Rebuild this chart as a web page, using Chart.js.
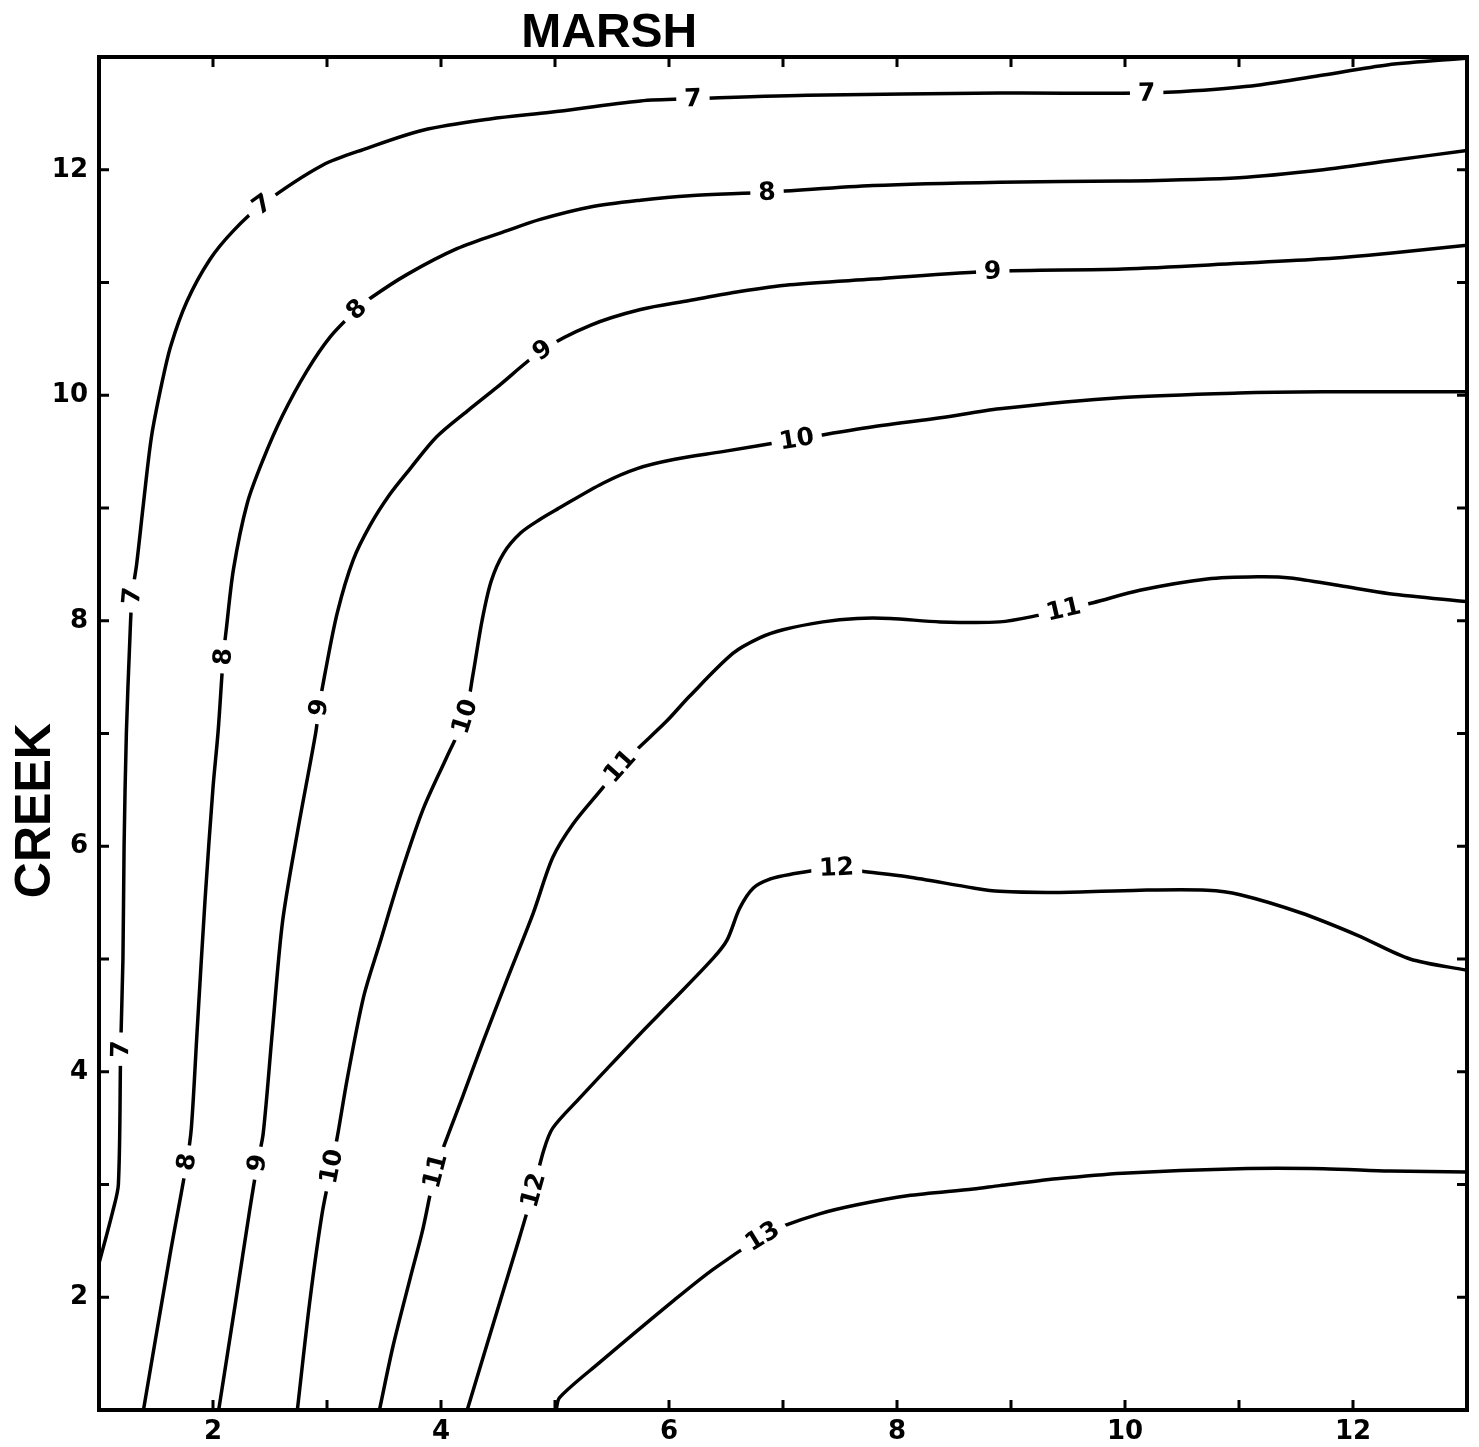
<!DOCTYPE html>
<html>
<head>
<meta charset="utf-8">
<title>MARSH / CREEK</title>
<script src="https://cdn.jsdelivr.net/npm/chart.js@4.4.1/dist/chart.umd.min.js"></script>
<style>
  html, body { margin: 0; padding: 0; background: #fff; }
  canvas { display: block; }
</style>
</head>
<body>
<canvas id="grafico" width="1479" height="1447"></canvas>
<script>
// Níveis das isolinhas
const levels = [7, 8, 9, 10, 11, 12, 13];

// Pontos de cada isolinha [x, y]
const contour7 = [[1.0, 2.3], [1.12, 2.76], [1.17, 3.0], [1.19, 4.2], [1.21, 5.0], [1.22, 6.0], [1.24, 7.0], [1.27, 7.82], [1.29, 8.22], [1.33, 8.5], [1.39, 9.04], [1.46, 9.63], [1.55, 10.1], [1.63, 10.44], [1.77, 10.83], [1.97, 11.2], [2.18, 11.46], [2.43, 11.69], [2.96, 12.04], [3.35, 12.19], [3.84, 12.35], [4.43, 12.45], [4.96, 12.51], [5.75, 12.61], [6.21, 12.63], [7.21, 12.66], [8.9, 12.68], [10.19, 12.68], [10.6, 12.7], [11.16, 12.75], [11.74, 12.84], [12.3, 12.93], [13, 12.99]];
const contour8 = [[1.39, 1.0], [1.62, 2.36], [1.77, 3.2], [1.81, 3.5], [1.86, 4.35], [1.93, 5.52], [2.0, 6.52], [2.045, 7.02], [2.09, 7.68], [2.115, 7.91], [2.18, 8.46], [2.3, 9.04], [2.44, 9.43], [2.61, 9.82], [2.82, 10.21], [3.03, 10.52], [3.26, 10.76], [3.38, 10.86], [3.7, 11.07], [4.14, 11.3], [4.58, 11.46], [4.87, 11.56], [5.31, 11.67], [5.75, 11.73], [6.18, 11.77], [6.86, 11.8], [7.79, 11.86], [8.9, 11.89], [9.98, 11.9], [11.0, 11.93], [11.74, 12.0], [12.32, 12.08], [13, 12.17]];
const contour9 = [[2.05, 1.0], [2.2, 1.97], [2.32, 2.76], [2.39, 3.19], [2.44, 3.45], [2.52, 4.35], [2.61, 5.33], [2.74, 6.12], [2.9, 7.0], [2.93, 7.23], [2.98, 7.52], [3.09, 8.07], [3.23, 8.54], [3.38, 8.85], [3.55, 9.12], [3.73, 9.35], [3.96, 9.63], [4.23, 9.86], [4.49, 10.07], [4.89, 10.4], [5.31, 10.62], [5.75, 10.76], [6.18, 10.84], [6.62, 10.92], [7.06, 10.98], [7.79, 11.03], [8.84, 11.1], [9.98, 11.12], [11.0, 11.17], [11.74, 11.21], [12.32, 11.26], [13, 11.33]];
const contour10 = [[2.74, 1.0], [2.85, 1.97], [2.96, 2.76], [3.04, 3.16], [3.09, 3.42], [3.18, 3.95], [3.32, 4.66], [3.46, 5.13], [3.64, 5.73], [3.84, 6.32], [4.05, 6.79], [4.21, 7.15], [4.28, 7.52], [4.36, 8.0], [4.44, 8.35], [4.55, 8.6], [4.7, 8.78], [4.87, 8.9], [5.02, 8.99], [5.42, 9.22], [5.72, 9.35], [6.04, 9.43], [6.47, 9.5], [7.12, 9.61], [7.79, 9.72], [8.38, 9.8], [8.9, 9.88], [9.98, 9.98], [11.0, 10.02], [11.74, 10.03], [13, 10.03]];
const contour11 = [[3.46, 1.0], [3.58, 1.57], [3.73, 2.17], [3.84, 2.6], [3.95, 3.12], [4.04, 3.38], [4.19, 3.78], [4.37, 4.27], [4.58, 4.82], [4.81, 5.41], [4.98, 5.9], [5.16, 6.2], [5.42, 6.52], [5.57, 6.71], [5.72, 6.86], [5.98, 7.11], [6.18, 7.33], [6.56, 7.71], [6.8, 7.85], [7.0, 7.92], [7.35, 7.99], [7.65, 8.02], [7.94, 8.02], [8.38, 7.99], [8.9, 7.99], [9.25, 8.05], [9.46, 8.1], [9.72, 8.16], [10.13, 8.27], [10.72, 8.37], [11.16, 8.39], [11.45, 8.38], [11.89, 8.31], [12.32, 8.24], [13, 8.17]];
const contour12 = [[4.23, 1.0], [4.52, 1.97], [4.68, 2.5], [4.81, 2.95], [4.9, 3.3], [4.98, 3.5], [5.22, 3.77], [5.46, 4.03], [5.75, 4.34], [6.04, 4.64], [6.39, 5.01], [6.51, 5.17], [6.62, 5.45], [6.74, 5.63], [6.89, 5.71], [7.06, 5.75], [7.47, 5.81], [7.68, 5.78], [8.09, 5.73], [8.67, 5.63], [8.9, 5.6], [9.4, 5.59], [10.13, 5.61], [10.72, 5.61], [11.01, 5.57], [11.54, 5.41], [12.04, 5.21], [12.5, 5.0], [13, 4.9]];
const contour13 = [[5.01, 1.0], [5.04, 1.11], [5.39, 1.42], [6.04, 1.97], [6.39, 2.25], [6.82, 2.54], [7.0, 2.63], [7.32, 2.74], [7.65, 2.82], [8.09, 2.9], [8.67, 2.96], [8.9, 2.99], [9.4, 3.05], [9.98, 3.1], [11.0, 3.14], [11.74, 3.14], [12.32, 3.12], [13, 3.11]];

// Onde cada rótulo aparece sobre a linha
const labels7 = [[1.19, 4.2], [1.29, 8.22], [2.43, 11.69], [6.21, 12.63], [10.19, 12.68]];
const labels8 = [[1.77, 3.2], [2.09, 7.68], [3.26, 10.76], [6.86, 11.8]];
const labels9 = [[2.39, 3.19], [2.93, 7.23], [4.89, 10.4], [8.84, 11.1]];
const labels10 = [[3.04, 3.16], [4.21, 7.15], [7.12, 9.61]];
const labels11 = [[3.95, 3.12], [5.57, 6.71], [9.46, 8.1]];
const labels12 = [[4.81, 2.95], [7.47, 5.81]];
const labels13 = [[6.82, 2.54]];

// Eixos
const xMin = 1, xMax = 13, yMin = 1, yMax = 13;
const tickValues = [2, 3, 4, 5, 6, 7, 8, 9, 10, 11, 12];

const contours = [contour7, contour8, contour9, contour10, contour11, contour12, contour13];
const labelSets = [labels7, labels8, labels9, labels10, labels11, labels12, labels13];

document.addEventListener('DOMContentLoaded', function() {
  const digitFont = 'bold 25px "DejaVu Sans"';

  // Rótulos das isolinhas, com uma falha branca na linha
  const contourLabels = {
    id: 'contourLabels',
    afterDatasetsDraw(chart) {
      const ctx = chart.ctx;
      const xs = chart.scales.x, ys = chart.scales.y;
      ctx.save();
      ctx.font = digitFont;
      ctx.textAlign = 'center';
      ctx.textBaseline = 'middle';
      levels.forEach((lev, k) => {
        const pts = contours[k];
        labelSets[k].forEach(([lx, ly]) => {
          let idx = 0, best = Infinity;
          pts.forEach((p, j) => {
            const d = (p[0] - lx) ** 2 + (p[1] - ly) ** 2;
            if (d < best) { best = d; idx = j; }
          });
          const a = pts[Math.max(idx - 1, 0)];
          const b = pts[Math.min(idx + 1, pts.length - 1)];
          const ang = Math.atan2(ys.getPixelForValue(b[1]) - ys.getPixelForValue(a[1]),
                                 xs.getPixelForValue(b[0]) - xs.getPixelForValue(a[0]));
          const txt = String(lev);
          const w = ctx.measureText(txt).width + 16;
          ctx.save();
          ctx.translate(xs.getPixelForValue(lx), ys.getPixelForValue(ly));
          ctx.rotate(ang);
          ctx.fillStyle = '#fff';
          ctx.fillRect(-w / 2, -8, w, 16);
          ctx.fillStyle = '#000';
          ctx.fillText(txt, 0, 1);
          ctx.restore();
        });
      });
      ctx.restore();
    }
  };

  // Moldura, marcas internas e títulos
  const frame = {
    id: 'frame',
    afterDraw(chart) {
      const ctx = chart.ctx;
      const { left, right, top, bottom } = chart.chartArea;
      const xs = chart.scales.x, ys = chart.scales.y;
      ctx.save();
      ctx.strokeStyle = '#000';
      ctx.lineWidth = 3;
      ctx.beginPath();
      tickValues.forEach(v => {
        const px = xs.getPixelForValue(v);
        ctx.moveTo(px, bottom); ctx.lineTo(px, bottom - 10);
        ctx.moveTo(px, top); ctx.lineTo(px, top + 10);
        const py = ys.getPixelForValue(v);
        ctx.moveTo(left, py); ctx.lineTo(left + 10, py);
        ctx.moveTo(right, py); ctx.lineTo(right - 10, py);
      });
      ctx.stroke();
      ctx.lineWidth = 4;
      ctx.strokeRect(left, top, right - left, bottom - top);

      ctx.fillStyle = '#000';
      ctx.textAlign = 'center';
      ctx.textBaseline = 'alphabetic';
      ctx.font = 'bold 48px "Liberation Sans"';
      ctx.fillText('MARSH', left + 0.373 * (right - left), top - 10);

      ctx.font = 'bold 50px "Liberation Sans"';
      ctx.translate(left - 49, top + 0.557 * (bottom - top));
      ctx.rotate(-Math.PI / 2);
      ctx.fillText('CREEK', 0, 0);
      ctx.restore();
    }
  };

  const tickOpts = {
    stepSize: 1,
    autoSkip: false,
    maxRotation: 0,
    color: '#000',
    font: { family: 'DejaVu Sans', weight: 'bold', size: 26 },
    callback: function(value) {
      return value % 2 === 0 ? String(value) : '';
    }
  };

  new Chart(document.getElementById('grafico'), {
    type: 'scatter',
    data: {
      datasets: contours.map((c, k) => ({
        label: String(levels[k]),
        data: c.map(([x, y]) => ({ x: x, y: y })),
        showLine: true,
        borderColor: '#000',
        borderWidth: 3.5,
        pointRadius: 0,
        tension: 0.3,
        fill: false
      }))
    },
    options: {
      responsive: false,
      animation: false,
      devicePixelRatio: 1,
      layout: { padding: { top: 57, right: 12, left: 0, bottom: 0 } },
      plugins: {
        legend: { display: false },
        tooltip: { enabled: false },
        title: { display: false }
      },
      scales: {
        x: {
          type: 'linear',
          min: xMin,
          max: xMax,
          grid: { display: false, drawTicks: false },
          border: { display: false },
          ticks: Object.assign({}, tickOpts, { padding: 7 }),
          afterFit: function(scale) { scale.height = 37; }
        },
        y: {
          type: 'linear',
          min: yMin,
          max: yMax,
          grid: { display: false, drawTicks: false },
          border: { display: false },
          ticks: Object.assign({}, tickOpts, { padding: 11 }),
          afterFit: function(scale) { scale.width = 99; }
        }
      }
    },
    plugins: [contourLabels, frame]
  });
});
</script>
</body>
</html>
